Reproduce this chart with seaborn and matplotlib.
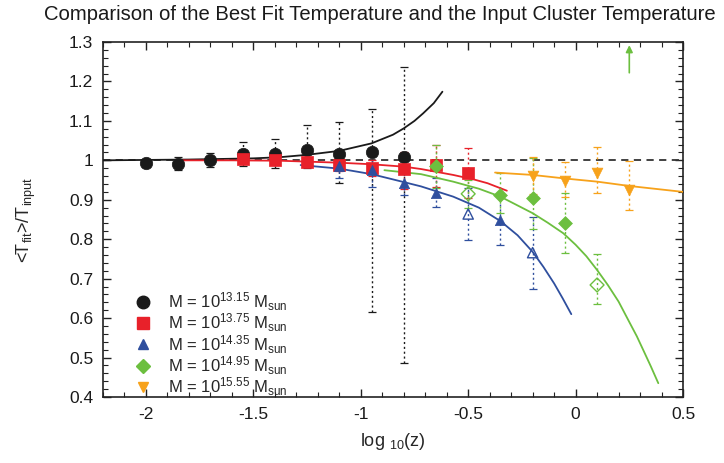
import numpy as np
import pandas as pd
import matplotlib
matplotlib.use("Agg")
import matplotlib.pyplot as plt
import seaborn as sns
from matplotlib.lines import Line2D
from matplotlib.ticker import MultipleLocator, FuncFormatter

# ---------------- data ----------------
labels = [r"M = 10$^{13.15}$ M$_{\rm sun}$", r"M = 10$^{13.75}$ M$_{\rm sun}$",
          r"M = 10$^{14.35}$ M$_{\rm sun}$", r"M = 10$^{14.95}$ M$_{\rm sun}$",
          r"M = 10$^{15.55}$ M$_{\rm sun}$"]
colors = ["#1a1a1a", "#e8212a", "#2f4f9e", "#6cbf3f", "#f7a21b"]
markers = ["o", "s", "^", "D", "v"]

# points: x = log10(z), y = <Tfit>/Tinput, lower/upper error, open-marker flag
x_m1 = [-2.0, -1.85, -1.7, -1.55, -1.4, -1.25, -1.1, -0.95, -0.8]
y_m1 = [0.992, 0.990, 1.001, 1.016, 1.016, 1.025, 1.017, 1.022, 1.009]
elo_m1 = [0.010, 0.015, 0.018, 0.030, 0.036, 0.045, 0.075, 0.406, 0.522]
ehi_m1 = [0.010, 0.018, 0.017, 0.031, 0.038, 0.065, 0.081, 0.108, 0.227]
open_m1 = [0, 0, 0, 0, 0, 0, 0, 0, 0]

x_m2 = [-1.55, -1.4, -1.25, -1.1, -0.95, -0.8, -0.65, -0.5]
y_m2 = [1.003, 1.000, 0.997, 0.988, 0.981, 0.977, 0.988, 0.969]
elo_m2 = [0.008, 0.010, 0.012, 0.015, 0.020, 0.050, 0.055, 0.065]
ehi_m2 = [0.008, 0.010, 0.012, 0.015, 0.020, 0.045, 0.052, 0.063]
open_m2 = [0, 0, 0, 0, 0, 0, 0, 0]

x_m3 = [-1.1, -0.95, -0.8, -0.65, -0.5, -0.35, -0.2]
y_m3 = [0.986, 0.975, 0.942, 0.918, 0.864, 0.848, 0.766]
elo_m3 = [0.030, 0.042, 0.030, 0.036, 0.066, 0.063, 0.091]
ehi_m3 = [0.030, 0.040, 0.030, 0.036, 0.066, 0.063, 0.090]
open_m3 = [0, 0, 0, 0, 1, 0, 1]

x_m4 = [-0.65, -0.5, -0.35, -0.2, -0.05, 0.1]
y_m4 = [0.986, 0.915, 0.912, 0.905, 0.840, 0.684]
elo_m4 = [0.055, 0.035, 0.045, 0.080, 0.074, 0.048]
ehi_m4 = [0.054, 0.035, 0.055, 0.100, 0.077, 0.078]
open_m4 = [0, 1, 0, 0, 0, 1]

x_m5 = [-0.2, -0.05, 0.1, 0.25]
y_m5 = [0.960, 0.948, 0.967, 0.926]
elo_m5 = [0.045, 0.040, 0.051, 0.052]
ehi_m5 = [0.049, 0.049, 0.066, 0.073]
open_m5 = [0, 0, 0, 0]

# best-fit curves
cx_m1 = [-2.2, -1.8, -1.5, -1.376, -1.25, -1.1, -0.95, -0.85, -0.8, -0.75, -0.71, -0.66, -0.62]
cy_m1 = [1.000, 1.002, 1.005, 1.008, 1.014, 1.024, 1.043, 1.065, 1.081, 1.100, 1.119, 1.145, 1.174]
cx_m2 = [-1.85, -1.6, -1.376, -1.1, -0.95, -0.8, -0.72, -0.57, -0.47, -0.41, -0.32]
cy_m2 = [1.000, 1.000, 0.999, 0.994, 0.990, 0.984, 0.978, 0.963, 0.951, 0.942, 0.923]
cx_m3 = [-1.28, -1.1, -0.95, -0.86, -0.72, -0.57, -0.45, -0.35, -0.27, -0.2, -0.15, -0.1, -0.06, -0.02]
cy_m3 = [0.988, 0.979, 0.965, 0.953, 0.934, 0.908, 0.880, 0.846, 0.810, 0.768, 0.730, 0.688, 0.650, 0.610]
cx_m4 = [-0.89, -0.72, -0.57, -0.45, -0.35, -0.2, -0.13, -0.057, 0.0, 0.05, 0.1, 0.15, 0.2, 0.253, 0.285, 0.315, 0.35, 0.385]
cy_m4 = [0.975, 0.965, 0.946, 0.928, 0.908, 0.866, 0.842, 0.815, 0.786, 0.757, 0.722, 0.684, 0.642, 0.587, 0.554, 0.519, 0.478, 0.435]
cx_m5 = [-0.375, -0.2, -0.05, 0.1, 0.25, 0.5]
cy_m5 = [0.969, 0.963, 0.954, 0.946, 0.935, 0.920]

# off-scale point shown as arrow
arrow_x = 0.25
arrow_y = [1.222, 1.292]

title = "Comparison of the Best Fit Temperature and the Input Cluster Temperature"
xlabel = r"log $_{10}$(z)"
ylabel = r"<T$_{\rm fit}$>/T$_{\rm input}$"

# ---------------- plotting ----------------
sns.set_theme(style="ticks")
plt.rcParams["font.family"] = ["Liberation Sans", "DejaVu Sans"]
plt.rcParams["mathtext.fontset"] = "custom"
plt.rcParams["mathtext.rm"] = "Liberation Sans"
plt.rcParams["mathtext.it"] = "Liberation Sans:italic"
plt.rcParams["mathtext.bf"] = "Liberation Sans:bold"

fig = plt.figure(figsize=(7.24, 4.63), dpi=100)
ax = fig.add_axes([103 / 724, 1 - 397 / 463, 580 / 724, 355 / 463])

series = [
    (x_m1, y_m1, elo_m1, ehi_m1, open_m1, cx_m1, cy_m1),
    (x_m2, y_m2, elo_m2, ehi_m2, open_m2, cx_m2, cy_m2),
    (x_m3, y_m3, elo_m3, ehi_m3, open_m3, cx_m3, cy_m3),
    (x_m4, y_m4, elo_m4, ehi_m4, open_m4, cx_m4, cy_m4),
    (x_m5, y_m5, elo_m5, ehi_m5, open_m5, cx_m5, cy_m5),
]
msizes = [80, 70, 55, 50, 60]

ax.axhline(1.0, color="#333333", ls=(0, (4, 3)), lw=1.3, zorder=1)

for i, (xs, ys, elo, ehi, op, cxs, cys) in enumerate(series):
    c = colors[i]
    eb = ax.errorbar(xs, ys, yerr=[elo, ehi], fmt="none", ecolor=c, elinewidth=1.0,
                     capsize=3, capthick=0.9, zorder=2)
    for ln in eb[2]:
        ln.set_linestyle((0, (1.5, 2)))
    dfc = pd.DataFrame({"x": cxs, "y": cys})
    sns.lineplot(data=dfc, x="x", y="y", color=c, lw=1.3, sort=False, ax=ax, zorder=3)
    df = pd.DataFrame({"x": xs, "y": ys, "open": op})
    filled = df[df["open"] == 0]
    hollow = df[df["open"] == 1]
    sns.scatterplot(data=filled, x="x", y="y", color=c, marker=markers[i], s=msizes[i],
                    edgecolor=c, linewidth=0.5, ax=ax, zorder=4)
    if len(hollow):
        ax.scatter(hollow["x"], hollow["y"], marker=markers[i], s=msizes[i],
                   facecolors="none", edgecolors=c, linewidths=1.0, zorder=4)

ax.annotate("", xy=(arrow_x, arrow_y[1]), xytext=(arrow_x, arrow_y[0]),
            arrowprops=dict(arrowstyle="-|>", color=colors[3], lw=1.2,
                            mutation_scale=10, shrinkA=0, shrinkB=0))

ax.set_xlim(-2.2, 0.5)
ax.set_ylim(0.4, 1.3)
ax.xaxis.set_major_locator(MultipleLocator(0.5))
ax.xaxis.set_minor_locator(MultipleLocator(0.1))
ax.yaxis.set_major_locator(MultipleLocator(0.1))
ax.yaxis.set_minor_locator(MultipleLocator(0.02))
ax.xaxis.set_major_formatter(FuncFormatter(lambda v, p: "%g" % round(v, 2)))
ax.yaxis.set_major_formatter(FuncFormatter(lambda v, p: "%g" % round(v, 2)))
ax.tick_params(which="both", direction="in", top=True, right=True, colors="#222222",
               labelsize=12.5, labelcolor="#1a1a1a")
ax.tick_params(which="major", length=6, width=1.0, pad=7)
ax.tick_params(which="minor", length=3.5, width=0.8)
for sp in ax.spines.values():
    sp.set_linewidth(1.2)
    sp.set_color("#222222")

ax.set_xlabel(xlabel, fontsize=13, labelpad=7)
ax.set_ylabel(ylabel, fontsize=13, labelpad=22)
fig.text(380 / 724, 1 - 14 / 463, title, ha="center", va="center", fontsize=14.6,
         color="#1a1a1a")

handles = [Line2D([], [], ls="none", marker=markers[i], color=colors[i],
                  markersize=[9, 8.5, 7, 7, 7.5][i]) for i in range(5)]
ax.legend(handles, labels, loc="lower left", bbox_to_anchor=(0.035, -0.035),
          frameon=False, fontsize=12, handletextpad=1.0, labelspacing=-0.09,
          handlelength=1.0, borderaxespad=0.3)

fig.savefig("out.png", dpi=100)
